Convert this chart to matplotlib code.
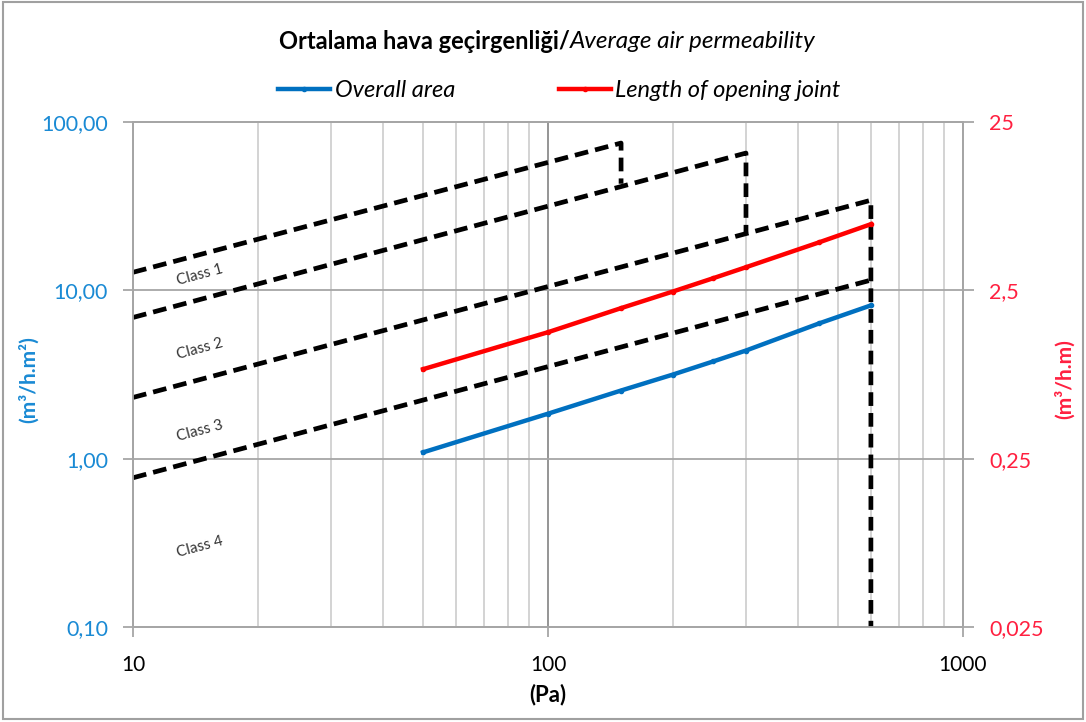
import matplotlib
matplotlib.use("Agg")
import matplotlib.pyplot as plt
from matplotlib.ticker import FixedLocator, FixedFormatter, LogLocator, NullLocator, NullFormatter
from matplotlib.lines import Line2D
from matplotlib.patches import Rectangle

plt.rcParams['font.family'] = ['Lato', 'DejaVu Sans']

# measured air permeability
pressure = [50, 100, 150, 200, 250, 300, 450, 600]
overall_area = [1.09, 1.85, 2.54, 3.16, 3.78, 4.39, 6.36, 8.14]      # m3/h.m2
opening_joint = [0.85, 1.41, 1.96, 2.46, 2.95, 3.43, 4.82, 6.18]     # m3/h.m

# class limit lines (Pa, m3/h.m2)
class1_x = [10, 150, 150]
class1_y = [12.8, 75, 43]
class2_x = [10, 300, 300]
class2_y = [6.9, 65.4, 22]
class3_x = [10, 600, 600]
class3_y = [2.31, 34.3, 0.1]
class4_x = [10, 600]
class4_y = [0.77, 11.5]

class_labels = ['Class 1', 'Class 2', 'Class 3', 'Class 4']
class_label_y = [12.3, 4.5, 1.47, 0.30]

x_ticks = [10, 100, 1000]
x_labels = ['10', '100', '1000']
left_ticks = [0.1, 1, 10, 100]
left_labels = ['0,10', '1,00', '10,00', '100,00']
right_ticks = [0.025, 0.25, 2.5, 25]
right_labels = ['0,025', '0,25', '2,5', '25']

blue = '#0070c0'
red = '#ff0000'
blue_txt = '#1a8ad4'
red_txt = '#ff2040'
grey = '#a6a6a6'

fig = plt.figure(figsize=(10.86, 7.22), dpi=100)
fig.patches.append(Rectangle((0.003, 0.004), 0.994, 0.993, transform=fig.transFigure,
                             fill=False, edgecolor='#a0a0a0', lw=1.5))

ax = fig.add_axes([0.1225, 0.1316, 0.7642, 0.6994])
ax.set_xscale('log')
ax.set_yscale('log')
ax.set_xlim(10, 1000)
ax.set_ylim(0.1, 100)

dash = dict(color='black', lw=3.4, dashes=(2.9, 1.5), zorder=3)
ax.plot(class1_x, class1_y, **dash)
ax.plot(class2_x, class2_y, **dash)
ax.plot(class3_x, class3_y, **dash)
ax.plot(class4_x, class4_y, **dash)

for lbl, yv in zip(class_labels, class_label_y):
    ax.text(14.5, yv, lbl, rotation=15, fontsize=11, color='#333333',
            ha='center', va='center', rotation_mode='anchor')

ax.plot(pressure, overall_area, color=blue, lw=3.2, marker='o', ms=3, zorder=4)

ax.xaxis.set_major_locator(FixedLocator(x_ticks))
ax.xaxis.set_major_formatter(FixedFormatter(x_labels))
ax.xaxis.set_minor_locator(LogLocator(base=10, subs=range(2, 10)))
ax.xaxis.set_minor_formatter(NullFormatter())
ax.yaxis.set_major_locator(FixedLocator(left_ticks))
ax.yaxis.set_major_formatter(FixedFormatter(left_labels))
ax.yaxis.set_minor_locator(NullLocator())

ax.grid(which='major', axis='y', color=grey, lw=1.3)
ax.grid(which='major', axis='x', color='#8c8c8c', lw=1.3)
ax.grid(which='minor', axis='x', color='#d0d0d0', lw=1.3)
ax.set_axisbelow(True)

ax.tick_params(axis='x', which='major', length=7, width=1.3, color=grey, pad=13,
               labelsize=15, labelcolor='black')
ax.tick_params(axis='x', which='minor', length=0)
ax.tick_params(axis='y', which='major', length=7, width=1.3, color=grey, pad=11,
               labelsize=15.5, labelcolor=blue_txt)
for s in ax.spines.values():
    s.set_color(grey)
    s.set_linewidth(1.3)

ax.set_xlabel('(Pa)', fontsize=16, fontweight='bold')
ax.xaxis.set_label_coords(0.5, -0.112)
ax.set_ylabel('(m³/h.m²)', fontsize=15, fontweight='bold', color=blue_txt)
ax.yaxis.set_label_coords(-0.113, 0.49)

ax2 = ax.twinx()
ax2.set_yscale('log')
ax2.set_ylim(0.025, 25)
ax2.plot(pressure, opening_joint, color=red, lw=3.2, marker='o', ms=3, zorder=4)
ax2.yaxis.set_major_locator(FixedLocator(right_ticks))
ax2.yaxis.set_major_formatter(FixedFormatter(right_labels))
ax2.yaxis.set_minor_locator(NullLocator())
ax2.tick_params(axis='y', which='major', length=8, width=1.3, color=grey, pad=11,
                labelsize=15.5, labelcolor=red_txt)
for s in ax2.spines.values():
    s.set_color(grey)
    s.set_linewidth(1.3)
ax2.set_ylabel('(m³/h.m)', fontsize=15, fontweight='bold', color=red_txt)
ax2.yaxis.set_label_coords(1.11, 0.49)

fig.text(0.525, 0.942, 'Ortalama hava geçirgenliği/', fontsize=17, fontweight='bold',
         ha='right', va='center')
fig.text(0.525, 0.942, 'Average air permeability', fontsize=17.5, style='italic',
         ha='left', va='center')

handles = [Line2D([], [], color=blue, lw=3.2, marker='o', ms=3),
           Line2D([], [], color=red, lw=3.2, marker='o', ms=3)]
fig.legend(handles, ['Overall area', 'Length of opening joint'], loc='center',
           bbox_to_anchor=(0.515, 0.874), ncol=2, frameon=False, handlelength=2.2,
           handletextpad=0.2, columnspacing=4.4, prop=dict(size=17, style='italic'))

fig.savefig('out.png', dpi=100)
